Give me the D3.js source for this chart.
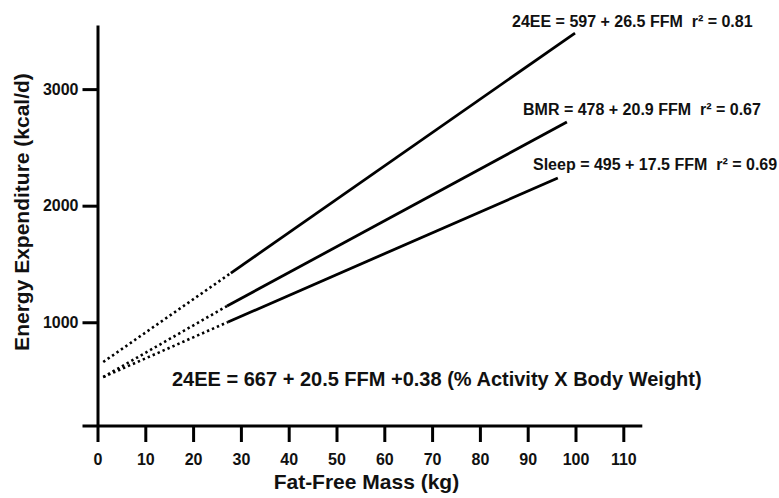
<!DOCTYPE html>
<html>
<head>
<meta charset="utf-8">
<script src="https://cdnjs.cloudflare.com/ajax/libs/d3/7.8.5/d3.min.js"></script>
<style>
    html, body { margin: 0; padding: 0; background: #fff; }
    svg text { font-family: "Liberation Sans", Arial, sans-serif; font-weight: bold; fill: #111; white-space: pre; }
</style>
</head>
<body>
<div class="content"></div>
<script>
(function (window) {
    'use strict';

    // values
    var seriesNames = ["24EE", "BMR", "Sleep"],
        dottedStart = [[1.2, 659], [1.2, 530], [1.2, 530]],
        solidStart = [[27.9, 1422], [27.1, 1139], [27.3, 1002]],
        solidEnd = [[99.9, 3481], [98.2, 2718], [96.3, 2237]],
        seriesLabels = [
            "24EE = 597 + 26.5 FFM  r\u00b2 = 0.81",
            "BMR = 478 + 20.9 FFM  r\u00b2 = 0.67",
            "Sleep = 495 + 17.5 FFM  r\u00b2 = 0.69"
        ],
        xTicks = [0, 10, 20, 30, 40, 50, 60, 70, 80, 90, 100, 110],
        yTicks = [1000, 2000, 3000],
        modelLabel = "24EE = 667 + 20.5 FFM +0.38 (% Activity X Body Weight)",
        xTitle = "Fat-Free Mass (kg)",
        yTitle = "Energy Expenditure (kcal/d)";

    var opts = {
            width: 779,
            height: 498,
            labelPos: [[512, 27], [523, 115], [533, 170]],
            stroke: 3
        },
        x = d3.scaleLinear().domain([0, 110]).range([97.5, 623.3]),
        y = d3.scaleLinear().domain([110, 3550]).range([426, 25]),
        line = d3.line()
            .x(function (d) { return x(d[0]); })
            .y(function (d) { return y(d[1]); });

    function createBoard() {
        return d3.select(".content").append("svg")
            .attr("width", opts.width)
            .attr("height", opts.height);
    }

    function addText(el, px, py, text, size, anchor) {
        return el.append("text")
            .text(text)
            .attr("x", px)
            .attr("y", py)
            .attr("font-size", size)
            .attr("text-anchor", anchor || "start");
    }

    function drawAxes(svg) {
        var gx, gy;

        gy = svg.append("g")
            .attr("transform", "translate(" + x(0) + ",0)")
            .call(d3.axisLeft(y).tickValues(yTicks).tickFormat(d3.format("d"))
                .tickSize(15).tickSizeOuter(0).tickPadding(4));
        gy.select(".domain").attr("stroke-width", opts.stroke);
        gy.selectAll(".tick line").attr("stroke-width", opts.stroke);
        gy.selectAll(".tick text")
            .attr("font-size", 16)
            .attr("font-family", null)
            .attr("fill", null);

        gx = svg.append("g")
            .attr("transform", "translate(0," + y(110) + ")")
            .call(d3.axisBottom(x).tickValues(xTicks).tickSize(16).tickPadding(12));
        gx.select(".domain").remove();
        gx.selectAll(".tick line").attr("stroke-width", opts.stroke);
        gx.selectAll(".tick text")
            .attr("font-size", 16)
            .attr("font-family", null)
            .attr("fill", null);

        // baseline runs a little past both ends
        svg.append("line")
            .attr("x1", x.range()[0] - 15)
            .attr("x2", x.range()[1] + 19)
            .attr("y1", y(110))
            .attr("y2", y(110))
            .attr("stroke", "#000")
            .attr("stroke-width", opts.stroke);

        addText(svg, (x.range()[0] + x.range()[1]) / 2 + 6, 489, xTitle, 21, "middle");
        addText(svg, 0, 0, yTitle, 21, "middle")
            .attr("transform", "translate(29,212) rotate(-90)");
    }

    function drawLines(svg) {
        var i;
        for (i = 0; i < seriesNames.length; i += 1) {
            svg.append("path")
                .attr("class", "dotted " + seriesNames[i])
                .attr("d", line([dottedStart[i], solidStart[i]]))
                .attr("fill", "none")
                .attr("stroke", "#000")
                .attr("stroke-width", 2.6)
                .attr("stroke-dasharray", "2.4,3");
            svg.append("path")
                .attr("class", "solid " + seriesNames[i])
                .attr("d", line([solidStart[i], solidEnd[i]]))
                .attr("fill", "none")
                .attr("stroke", "#000")
                .attr("stroke-width", 2.8);
            addText(svg, opts.labelPos[i][0], opts.labelPos[i][1], seriesLabels[i], 16);
        }
        addText(svg, 172, 386, modelLabel, 20);
    }

    var svg = createBoard();
    drawLines(svg);
    drawAxes(svg);
}(window));
</script>
</body>
</html>
